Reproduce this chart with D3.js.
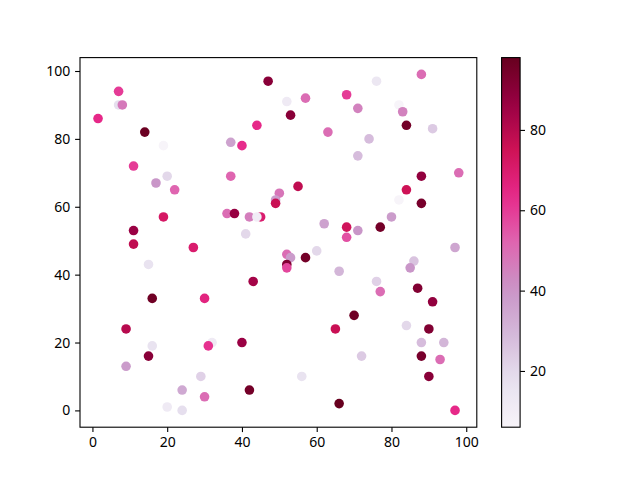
<!DOCTYPE html>
<html>
<head>
<meta charset="utf-8">
<script src="https://cdn.jsdelivr.net/npm/d3@7"></script>
<style>
  body { margin: 0; background: #fff; }
  svg text { font-family: "Noto Sans", "DejaVu Sans", sans-serif; font-size: 14px; fill: #000; }
</style>
</head>
<body>
<svg id="chart"></svg>
<script>
// data, drawn in this order
const xs = [7, 7, 8, 1.5, 14, 19, 11, 20, 17, 22, 19, 11, 11, 27,
  47, 52, 57, 68, 53, 44, 63, 37, 40, 37, 55, 50, 49, 49, 36, 38, 42, 45, 44, 62, 68, 68, 41, 60,
  88, 76, 71, 82, 83, 84, 91, 74, 71, 98, 88, 84, 82, 88, 80, 71, 77, 97,
  15, 16, 30, 9, 16, 32, 31, 15, 9, 29, 24, 30, 20, 24,
  52, 53, 52, 52, 57, 66, 43, 65, 40, 56, 42, 66,
  86, 85, 76, 77, 87, 91, 70, 84, 90, 88, 94, 72, 88, 93, 90, 97];
const ys = [94, 90, 90, 86, 82, 78, 72, 69, 67, 65, 57, 53, 49, 48,
  97, 91, 92, 93, 87, 84, 82, 79, 78, 69, 66, 64, 62, 61, 58, 58, 57, 57, 57, 55, 54, 51, 52, 47,
  99, 97, 89, 90, 88, 84, 83, 80, 75, 70, 69, 65, 62, 61, 57, 53, 54, 48,
  43, 33, 33, 24, 19, 20, 19, 16, 13, 10, 6, 4, 1, 0,
  46, 45, 43, 42, 45, 41, 38, 24, 20, 10, 6, 2,
  44, 42, 38, 35, 36, 32, 28, 25, 24, 20, 20, 16, 16, 15, 10, 0];
const cs = [60, 18, 47, 64, 97, 6, 60, 20, 40, 52, 72, 86, 78, 70,
  90, 12, 50, 60, 90, 64, 50, 36, 63, 52, 78, 48, 38, 76, 50, 87, 46, 70, 10, 36, 74, 56, 20, 20,
  50, 14, 45, 6, 45, 95, 24, 28, 28, 50, 88, 75, 6, 94, 38, 40, 95, 35,
  16, 96, 66, 80, 16, 12, 62, 90, 38, 22, 34, 50, 12, 18,
  50, 38, 92, 58, 95, 30, 84, 76, 86, 16, 95, 98,
  26, 40, 22, 50, 92, 88, 96, 20, 92, 28, 30, 24, 94, 50, 90, 64];

const cbTicks = [20, 40, 60, 80];
const xTicks = [0, 20, 40, 60, 80, 100];
const yTicks = [0, 20, 40, 60, 80, 100];

// matplotlib PuRd
const puRd = ["#f7f4f9", "#e7e1ef", "#d4b9da", "#c994c7", "#df65b0",
  "#e7298a", "#ce1256", "#980043", "#67001f"];

const W = 640, H = 480;
const axL = 80, axR = 476.8, axT = 57.6, axB = 427.2;
const cbLeft = 501.6, cbW = 18.5;

const svg = d3.select("#chart").attr("width", W).attr("height", H);

function padded(v) {
  const [a, b] = d3.extent(v);
  const m = (b - a) * 0.05;
  return [a - m, b + m];
}

const x = d3.scaleLinear().domain(padded(xs)).range([axL, axR]);
const y = d3.scaleLinear().domain(padded(ys)).range([axB, axT]);
const cDom = d3.extent(cs);
const color = d3.scaleLinear()
  .domain(puRd.map((_, i) => cDom[0] + (cDom[1] - cDom[0]) * i / (puRd.length - 1)))
  .range(puRd)
  .interpolate(d3.interpolateRgb);

// points
svg.append("g")
  .selectAll("circle")
  .data(xs.map((v, i) => ({ x: v, y: ys[i], c: cs[i] })))
  .join("circle")
  .attr("cx", d => x(d.x))
  .attr("cy", d => y(d.y))
  .attr("r", 4.8)
  .attr("fill", d => color(d.c));

// axes
const xAxis = svg.append("g")
  .attr("transform", `translate(0,${axB})`)
  .call(d3.axisBottom(x).tickValues(xTicks).tickSize(4.9).tickPadding(4.9));
const yAxis = svg.append("g")
  .attr("transform", `translate(${axL},0)`)
  .call(d3.axisLeft(y).tickValues(yTicks).tickSize(4.9).tickPadding(4.9));

[xAxis, yAxis].forEach(g => {
  g.select(".domain").remove();
  g.selectAll("line").attr("stroke", "#000").attr("stroke-width", 1.1);
  g.selectAll("text").attr("font-family", null).attr("font-size", null);
});

svg.append("rect")
  .attr("x", axL).attr("y", axT)
  .attr("width", axR - axL).attr("height", axB - axT)
  .attr("fill", "none").attr("stroke", "#000").attr("stroke-width", 1.1);

// colorbar
const cbScale = d3.scaleLinear().domain(cDom).range([axB, axT]);
const grad = svg.append("defs").append("linearGradient")
  .attr("id", "cbGrad")
  .attr("x1", 0).attr("y1", 1).attr("x2", 0).attr("y2", 0);
d3.range(0, 1.0001, 0.05).forEach(t => {
  grad.append("stop")
    .attr("offset", t)
    .attr("stop-color", color(cDom[0] + t * (cDom[1] - cDom[0])));
});

svg.append("rect")
  .attr("x", cbLeft).attr("y", axT)
  .attr("width", cbW).attr("height", axB - axT)
  .attr("fill", "url(#cbGrad)")
  .attr("stroke", "#000").attr("stroke-width", 1.1);

const cbAxis = svg.append("g")
  .attr("transform", `translate(${cbLeft + cbW},0)`)
  .call(d3.axisRight(cbScale).tickValues(cbTicks).tickSize(4.9).tickPadding(4.9));
cbAxis.select(".domain").remove();
cbAxis.selectAll("line").attr("stroke", "#000").attr("stroke-width", 1.1);
cbAxis.selectAll("text").attr("font-family", null).attr("font-size", null);
</script>
</body>
</html>
